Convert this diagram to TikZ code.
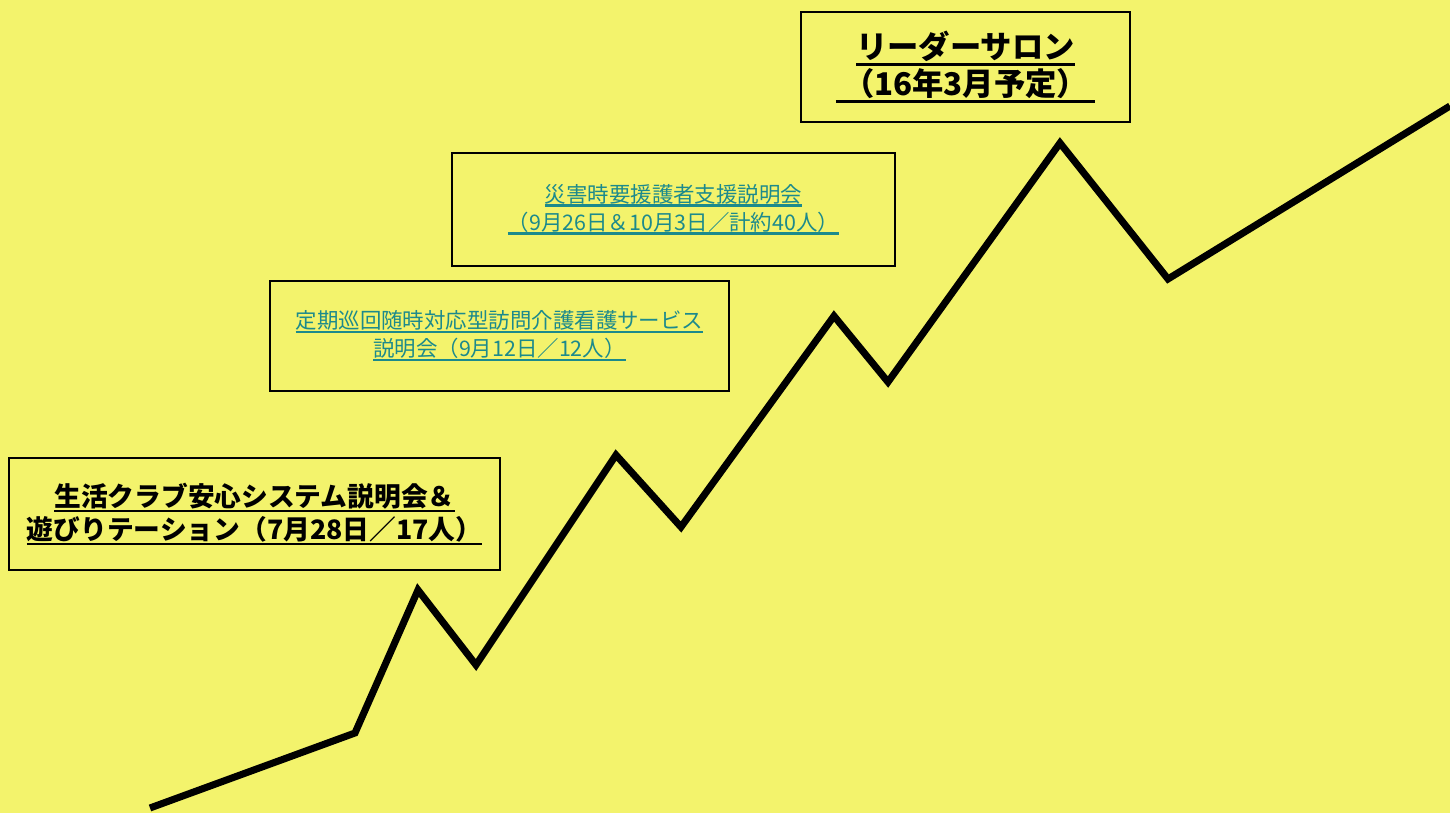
\documentclass[tikz,border=0pt]{standalone}
\usepackage{fontspec}
\setmainfont{Noto Sans CJK JP}
\usepackage{xcolor}
\usepackage{tikz}
\usetikzlibrary{positioning}
\definecolor{bgyellow}{HTML}{F3F36C}
\definecolor{linkteal}{HTML}{1C8A8C}
% underline close to the baseline
\newcommand{\ulbar}[3]{\setbox0\hbox{#3}\leavevmode\hbox{\rlap{\rule[-#1]{\wd0}{#2}}\box0}}

\begin{document}
\begin{tikzpicture}[x=0.01cm, y=-0.01cm,
    event/.style={draw=black, line width=0.6pt, fill=bgyellow, align=center, inner sep=0pt},
    trend/.style={line width=2pt, line join=miter, black}]
    \fill[bgyellow] (0,0) rectangle (1450,813);
    \useasboundingbox (0,0) rectangle (1450,813);
    % zigzag line
    \foreach \n/\x/\y in {0/150/808,1/355/733,2/418/590,3/476/665,4/616/455,5/681/527,6/834/316,7/888/382,8/1060/143,9/1168/279,10/1450/106} {
        \coordinate (p\n) at (\x,\y);
    }
    \draw[trend] (p0) \foreach \n in {1,...,10} { -- (p\n) };
    % boxes
    \node[event, minimum width=4.91cm, minimum height=1.12cm, font=\fontsize{7.6}{9.4}\selectfont\bfseries] (club) at (254.5,514)
        {\ulbar{1.4pt}{0.5pt}{生活クラブ安心システム説明会＆}\\\ulbar{1.4pt}{0.5pt}{遊びりテーション（7月28日／17人）}};
    \node[event, minimum width=4.59cm, minimum height=1.10cm, text=linkteal, font=\fontsize{6.1}{8}\selectfont] (visit) at (499.5,336)
        {\ulbar{1.3pt}{0.7pt}{定期巡回随時対応型訪問介護看護サービス}\\\ulbar{1.3pt}{0.7pt}{説明会（9月12日／12人）}};
    \node[event, minimum width=4.43cm, minimum height=1.13cm, text=linkteal, font=\fontsize{6.1}{8}\selectfont] (disaster) at (673.5,209.5)
        {\ulbar{1.3pt}{0.7pt}{災害時要援護者支援説明会}\\\ulbar{1.3pt}{0.7pt}{（9月26日＆10月3日／計約40人）}};
    \node[event, minimum width=3.29cm, minimum height=1.10cm, font=\fontsize{8.9}{10.5}\selectfont\bfseries] (salon) at (965.5,67)
        {\ulbar{1.9pt}{0.7pt}{リーダーサロン}\\\ulbar{1.9pt}{0.7pt}{\ （16年3月予定）\ }};
\end{tikzpicture}
\end{document}
